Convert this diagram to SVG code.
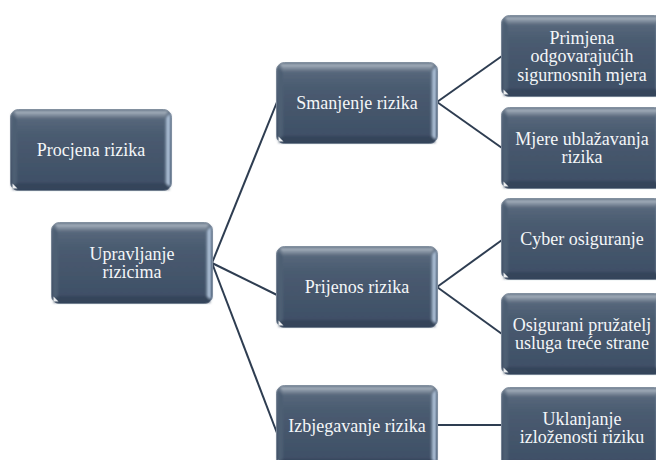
<svg xmlns="http://www.w3.org/2000/svg" xmlns:xlink="http://www.w3.org/1999/xlink" width="656" height="460" viewBox="0 0 656 460">
<defs>
<linearGradient id="gBase" x1="0" y1="0" x2="0" y2="1">
<stop offset="0" stop-color="#6a798b"/>
<stop offset="0.5" stop-color="#46576d"/>
<stop offset="1" stop-color="#34445a"/>
</linearGradient>
<linearGradient id="gTop" x1="0" y1="0" x2="0" y2="1">
<stop offset="0" stop-color="#aeb8c3"/>
<stop offset="1" stop-color="#56667a"/>
</linearGradient>
<linearGradient id="gRight" x1="0" y1="0" x2="1" y2="0">
<stop offset="0" stop-color="#55687f"/>
<stop offset="0.6" stop-color="#c2d5ea"/>
<stop offset="1" stop-color="#6d84a0"/>
</linearGradient>
<linearGradient id="gFace" x1="0" y1="0" x2="0" y2="1">
<stop offset="0" stop-color="#56677b"/>
<stop offset="0.25" stop-color="#4a5b70"/>
<stop offset="1" stop-color="#3f5067"/>
</linearGradient>
<filter id="soft" x="-5%" y="-5%" width="110%" height="110%">
<feGaussianBlur stdDeviation="0.8"/>
</filter>
<g id="box">
<rect x="0.5" y="0.5" width="161" height="81" rx="8" ry="8" fill="url(#gBase)" stroke="#7f8c9c" stroke-width="1"/>
<g filter="url(#soft)">
<path d="M4,2 H158 L154,10 H8 Z" fill="url(#gTop)"/>
<path d="M1.5,5 L7,10 V74 L1.5,78 Z" fill="#4e5e73"/>
<path d="M2,80.5 H160 L154,74 H8 Z" fill="#34445a"/>
<path d="M155,10 L160.5,4 V78 L155,74 Z" fill="url(#gRight)"/>
<rect x="7" y="10" width="148" height="64" fill="url(#gFace)"/>
</g>
<path d="M2.5,79.5 L2.5,74.5 L7.5,79.5 Z" fill="#ffffff" opacity="0.9"/>
</g>
</defs>
<style>
.t { font-family: 'Liberation Serif', 'DejaVu Serif', serif; font-size: 18px; fill: #f4f6f8; text-anchor: middle; }
.c { stroke: #2e3d51; stroke-width: 2; fill: none; }
</style>
<g id="connectors">
<line class="c" x1="212" y1="263" x2="277" y2="102"/>
<line class="c" x1="212" y1="263" x2="277" y2="295"/>
<line class="c" x1="212" y1="263" x2="277" y2="433"/>
<line class="c" x1="437" y1="102" x2="502" y2="56"/>
<line class="c" x1="437" y1="102" x2="502" y2="148"/>
<line class="c" x1="437" y1="287" x2="502" y2="240"/>
<line class="c" x1="437" y1="287" x2="502" y2="334"/>
<line class="c" x1="437" y1="425" x2="502" y2="425"/>
</g>
<g font-family="Liberation Serif, serif">
<g id="procjena">
<use xlink:href="#box" x="10" y="109"/>
<text class="t" x="91" y="156">Procjena rizika</text>
</g>
<g id="upravljanje">
<use xlink:href="#box" x="51" y="222"/>
<text class="t" x="132" y="259.5">Upravljanje</text>
<text class="t" x="132" y="278">rizicima</text>
</g>
<g id="smanjenje">
<use xlink:href="#box" x="276" y="62"/>
<text class="t" x="357" y="109">Smanjenje rizika</text>
</g>
<g id="prijenos">
<use xlink:href="#box" x="276" y="246"/>
<text class="t" x="357" y="293">Prijenos rizika</text>
</g>
<g id="izbjegavanje">
<use xlink:href="#box" x="276" y="385"/>
<text class="t" x="357" y="432">Izbjegavanje rizika</text>
</g>
<g id="primjena">
<use xlink:href="#box" x="501" y="15"/>
<text class="t" x="582" y="43.5">Primjena</text>
<text class="t" x="582" y="62">odgovarajućih</text>
<text class="t" x="582" y="80.5">sigurnosnih mjera</text>
</g>
<g id="mjere">
<use xlink:href="#box" x="501" y="107"/>
<text class="t" x="582" y="144.5">Mjere ublažavanja</text>
<text class="t" x="582" y="163">rizika</text>
</g>
<g id="cyber">
<use xlink:href="#box" x="501" y="198"/>
<text class="t" x="582" y="245">Cyber osiguranje</text>
</g>
<g id="osigurani">
<use xlink:href="#box" x="501" y="293"/>
<text class="t" x="582" y="330.5">Osigurani pružatelj</text>
<text class="t" x="582" y="349">usluga treće strane</text>
</g>
<g id="uklanjanje">
<use xlink:href="#box" x="501" y="387"/>
<text class="t" x="582" y="424.5">Uklanjanje</text>
<text class="t" x="582" y="443">izloženosti riziku</text>
</g>
</g>
</svg>
